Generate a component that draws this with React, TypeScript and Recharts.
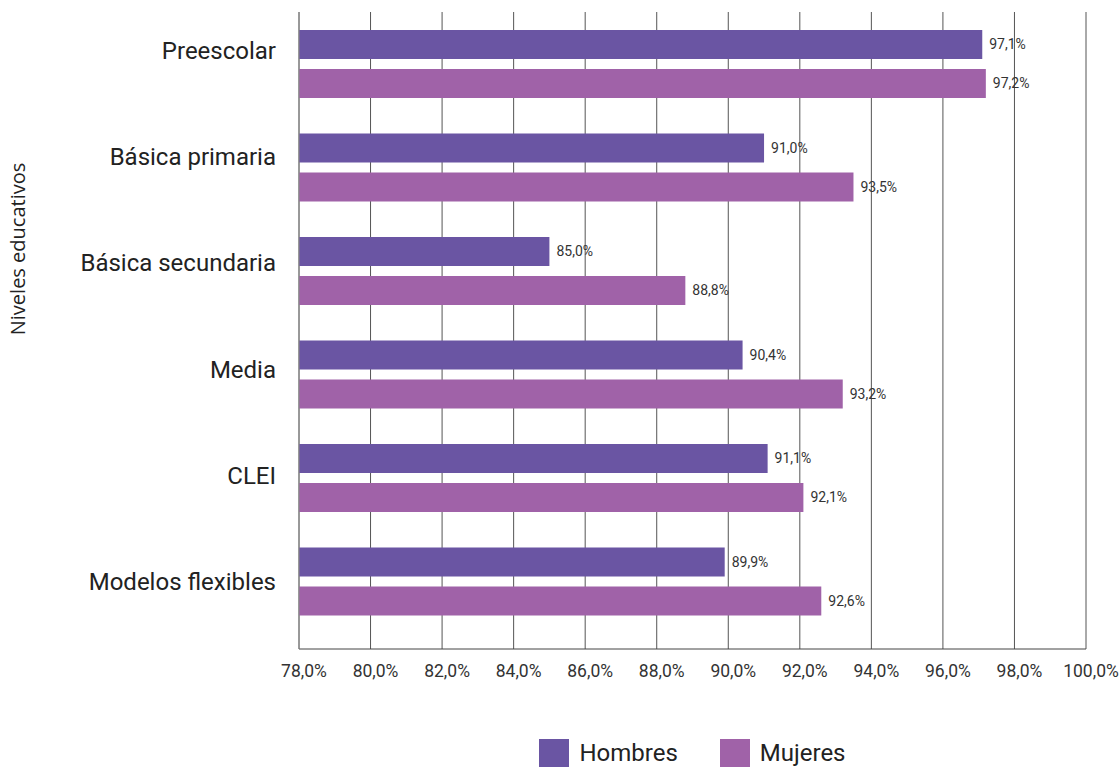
import React from 'react';
import { BarChart, Bar, XAxis, YAxis, CartesianGrid, LabelList, Legend } from 'recharts';

const niveles = ['Preescolar', 'Básica primaria', 'Básica secundaria', 'Media', 'CLEI', 'Modelos flexibles'];
const hombres = [97.1, 91.0, 85.0, 90.4, 91.1, 89.9];
const mujeres = [97.2, 93.5, 88.8, 93.2, 92.1, 92.6];
const xTicks = [78, 80, 82, 84, 86, 88, 90, 92, 94, 96, 98, 100];

const COLOR_H = '#6a55a3';
const COLOR_M = '#a062a8';

const data = niveles.map((n, i) => ({ nivel: n, Hombres: hombres[i], Mujeres: mujeres[i] }));

const fmt = (v: number) => v.toFixed(1).replace('.', ',') + '%';

const CatTick = (props: any) => {
  const { x, y, payload } = props;
  return (
    <text x={x - 15} y={y - 6} textAnchor="end" fontFamily="Roboto" fontSize={24} fill="#222">
      {payload.value}
    </text>
  );
};

const LegendContent = () => (
  <div style={{ display: 'flex', justifyContent: 'center', fontFamily: 'Roboto', fontSize: 24, color: '#222' }}>
    {[
      { name: 'Hombres', color: COLOR_H },
      { name: 'Mujeres', color: COLOR_M },
    ].map((it, i) => (
      <div key={it.name} style={{ display: 'flex', alignItems: 'center', marginLeft: i ? 42 : 0 }}>
        <span style={{ display: 'inline-block', width: 30, height: 28, background: it.color, marginRight: 10 }} />
        <span>{it.name}</span>
      </div>
    ))}
  </div>
);

export default function App() {
  return (
    <div style={{ position: 'absolute', left: 0, top: 0, width: 1119, height: 767, background: '#fff' }}>
      <BarChart
        width={1119}
        height={767}
        data={data}
        layout="vertical"
        barGap={10}
        margin={{ top: 12, right: 33, left: 0, bottom: 88 }}
      >
        <CartesianGrid horizontal={false} vertical={true} stroke="#555" />
        <XAxis
          type="number"
          domain={[78, 100]}
          ticks={xTicks}
          allowDataOverflow
          tickFormatter={(v: number) => fmt(v)}
          axisLine={{ stroke: '#444' }}
          tickLine={false}
          tick={{ fontFamily: 'Roboto', fontSize: 17.5, fill: '#333', dx: 5, dy: 8 }}
          height={30}
        />
        <YAxis
          yAxisId="cat"
          type="category"
          dataKey="nivel"
          width={299}
          axisLine={{ stroke: '#888' }}
          tickLine={false}
          tick={<CatTick />}
          interval={0}
          label={{
            content: () => (
              <text
                transform="translate(25,249) rotate(-90)"
                textAnchor="middle"
                fontFamily="Open Sans"
                fontSize={20}
                fill="#222"
              >
                Niveles educativos
              </text>
            ),
          }}
        />
        <YAxis yAxisId="bars" type="category" dataKey="nivel" hide width={0} padding={{ top: 0, bottom: 16 }} />
        <Legend
          layout="horizontal"
          verticalAlign="middle"
          align="center"
          wrapperStyle={{ top: 739, left: 299, width: 787 }}
          content={<LegendContent />}
        />
        <Bar yAxisId="bars" dataKey="Hombres" fill={COLOR_H} barSize={29} isAnimationActive={false}>
          <LabelList dataKey="Hombres" position="right" offset={7} formatter={(v: any) => fmt(Number(v))} fontFamily="Roboto" fontSize={14} fill="#333" />
        </Bar>
        <Bar yAxisId="bars" dataKey="Mujeres" fill={COLOR_M} barSize={29} isAnimationActive={false}>
          <LabelList dataKey="Mujeres" position="right" offset={7} formatter={(v: any) => fmt(Number(v))} fontFamily="Roboto" fontSize={14} fill="#333" />
        </Bar>
      </BarChart>
    </div>
  );
}
